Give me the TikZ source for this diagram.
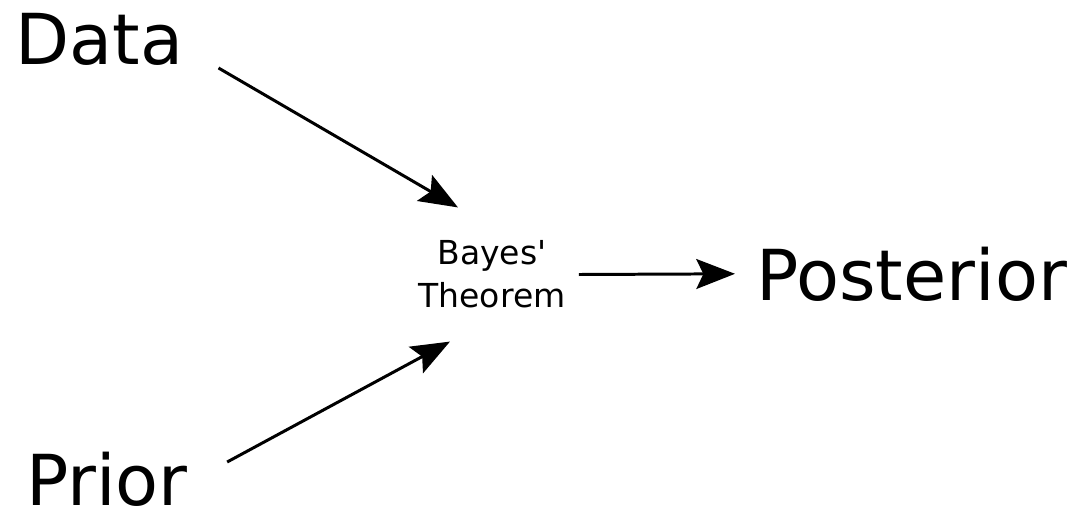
\documentclass[tikz,border=0pt]{standalone}
\usepackage{fontspec}
\setmainfont{DejaVu Sans}
\usetikzlibrary{arrows.meta, calc, positioning}
\tikzset{
  bigarrow/.style={-{Stealth[length=22pt, width=17pt, inset=4pt]}, line width=1.7pt, black},
  bigtext/.style={inner sep=0pt, font=\fontsize{40}{48}\selectfont},
  smalltext/.style={inner sep=0pt, align=center, font=\fontsize{18.8}{24.4}\selectfont},
}

\begin{document}
\begin{tikzpicture}[x=0.02cm, y=-0.02cm]
  \useasboundingbox (0,0) rectangle (1074,511);

  \node[bigtext, anchor=base west] (data) at (15,64) {Data};
  \node[bigtext, anchor=base west] (prior) at (26,505) {Prior};
  \node[smalltext] (bayes) at (492,274.5) {Bayes\textquotesingle\\Theorem};
  \node[bigtext, anchor=base west] (posterior) at (756,300) {Posterior};

  % inputs into the theorem, then out to the posterior
  \draw[bigarrow] ($(data.base east)+(35,4)$) -- ($(bayes.north)+(-34,-33)$);
  \draw[bigarrow] ($(prior.base east)+(39,-43)$) -- ($(bayes.south)+(-42,33)$);
  \draw[bigarrow] ($(bayes.east)+(13,0)$) -- ($(posterior.west)+(-21,0)$);
\end{tikzpicture}
\end{document}
